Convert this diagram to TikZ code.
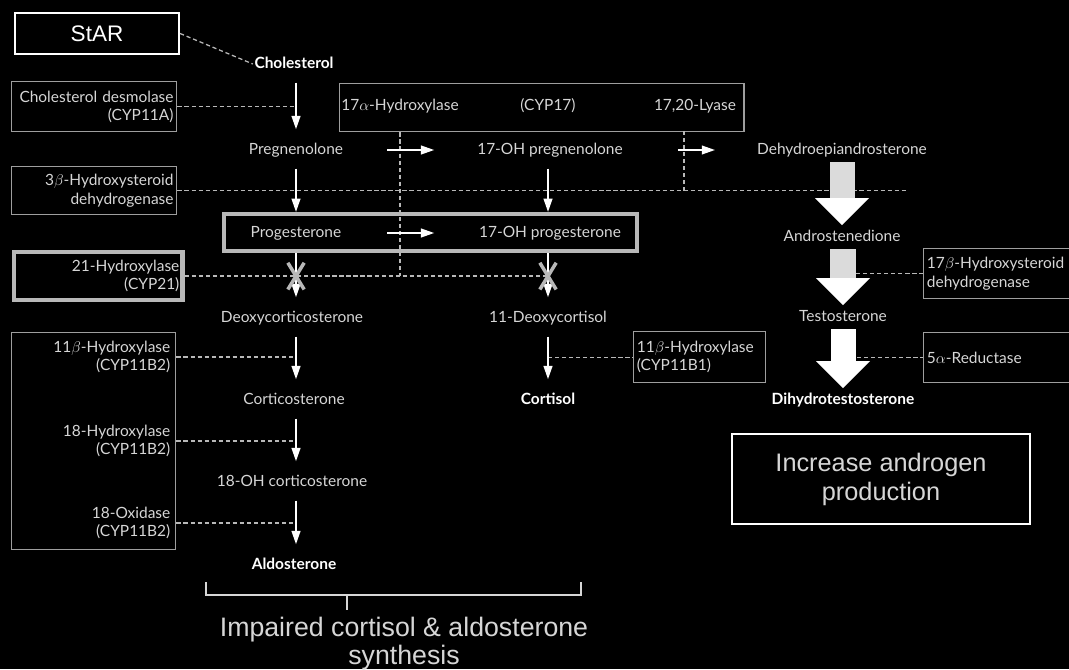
\documentclass[tikz,border=0pt]{standalone}
\usepackage{fontspec}
\setmainfont{Lato}
\newfontfamily\slidefont{Liberation Sans}
\usetikzlibrary{arrows.meta, positioning, shapes.misc, calc}
\definecolor{metabgray}{gray}{0.84}
\definecolor{boxgray}{gray}{0.62}
\definecolor{keygray}{gray}{0.72}
\definecolor{shaftgray}{gray}{0.86}
\definecolor{linkgray}{gray}{0.72}
\tikzset{
  metab/.style={text=metabgray, font=\fontsize{11}{13}\selectfont, inner sep=1pt, text height=8pt, text depth=2.2pt},
  product/.style={metab, text=white, font=\fontsize{11}{13}\selectfont\bfseries},
  enzyme/.style={draw=boxgray, line width=1pt, text=metabgray, font=\fontsize{11}{13}\selectfont, inner xsep=0.08cm, inner ysep=2pt, align=right, anchor=north west},
  keyenzyme/.style={enzyme, draw=keygray, line width=3pt},
  enzlabel/.style={text=metabgray, font=\fontsize{11}{13}\selectfont, inner sep=1pt, align=right, anchor=east},
  keybox/.style={draw=keygray, line width=3pt},
  flow/.style={-{Triangle[length=0.33cm, width=0.22cm]}, white, line width=1.1pt, shorten <=7pt, shorten >=8.5pt},
  link/.style={linkgray, line width=0.9pt, dash pattern=on 3pt off 2pt},
  blocked/.style={draw=keygray, cross out, line width=2.5pt, minimum width=0.32cm, minimum height=0.58cm, inner sep=0pt},
  slidebox/.style={draw=white, line width=1.5pt, text=white, font=\slidefont\fontsize{16}{18}\selectfont},
  slidetext/.style={text=metabgray, font=\slidefont\fontsize{19}{20}\selectfont, align=center},
}
% fat arrow: from node, to node, shaft colour
\newcommand{\fatarrow}[3]{%
  \fill[#3] ($(#1.south)+(-12.5,3)$) rectangle ($(#2.north)+(12.5,-28)$);
  \fill[white] ($(#2.north)+(-27,-30)$) -- ($(#2.north)+(27,-30)$) -- ($(#2.north)+(0,-3)$) -- cycle;}

\begin{document}
\begin{tikzpicture}[x=0.025cm, y=-0.025cm]
\fill[black] (0,0) rectangle (1069,669);
\useasboundingbox (0,0) rectangle (1069,669);
\clip (0,0) rectangle (1069,669);

% metabolites
\node[product] (chol) at (294,64) {Cholesterol};
\node[metab] (preg) at (296,150) {Pregnenolone};
\node[metab] (ohpreg) at (550,150) {17-OH pregnenolone};
\node[metab] (dhea) at (842,150) {Dehydroepiandrosterone};
\node[keybox, minimum width=10.325cm, minimum height=0.925cm] (progbox) at (430.5,232.5) {};
\node[metab] (prog) at (296,233) {Progesterone};
\node[metab] (ohprog) at (550,233) {17-OH progesterone};
\node[metab] (andro) at (842,237) {Androstenedione};
\node[metab] (doc) at (292,318) {Deoxycorticosterone};
\node[metab] (deoxycort) at (548,318) {11-Deoxycortisol};
\node[metab] (testo) at (843,317) {Testosterone};
\node[metab] (cortico) at (294,400) {Corticosterone};
\node[product] (cortisol) at (548,400) {Cortisol};
\node[product] (dht) at (843,400) {Dihydrotestosterone};
\node[metab] (ohcortico) at (292,482) {18-OH corticosterone};
\node[product] (aldo) at (294,565) {Aldosterone};

% enzymes
\node[slidebox, minimum width=4.1cm, minimum height=1.025cm] (star) at (97,33.5) {StAR};
\node[enzyme, text width=3.965cm, minimum height=1.25cm] (desm) at (11,81) {Cholesterol desmolase\\(CYP11A)};
\node[enzyme, text width=3.965cm, minimum height=1.2cm] (hsd3) at (11,166) {3$\beta$-Hydroxysteroid\\dehydrogenase};
\node[keyenzyme, text width=4.05cm, minimum height=1.2cm] (cyp21) at (12,250) {21-Hydroxylase\\(CYP21)};
\node[enzyme, minimum width=10.1cm, minimum height=1.2cm] (cyp17) at (339,83) {};
\node[metab] (hydrox17) at (400,106) {17$\alpha$-Hydroxylase};
\node[metab] (cyp17lbl) at (548,106) {(CYP17)};
\node[metab] (lyase) at (695,106) {17,20-Lyase};
\coordinate (lyasetap) at (684,131);
\node[enzyme, minimum width=4.1cm, minimum height=5.425cm] (cypbox) at (11,332) {};
\node[enzlabel] (hydrox11) at (172,357) {11$\beta$-Hydroxylase\\(CYP11B2)};
\node[enzlabel] (hydrox18) at (172,441) {18-Hydroxylase\\(CYP11B2)};
\node[enzlabel] (oxid18) at (172,523) {18-Oxidase\\(CYP11B2)};
\node[enzyme, align=left, text width=3.14cm, minimum height=1.275cm] (cyp11b1) at (633,331) {11$\beta$-Hydroxylase\\(CYP11B1)};
\node[enzyme, align=left, text width=3.6cm, minimum height=1.25cm] (hsd17) at (923,248) {17$\beta$-Hydroxysteroid\\dehydrogenase};
\node[enzyme, align=left, text width=3.6cm, minimum height=1.25cm] (red5a) at (923,332) {5$\alpha$-Reductase};
\coordinate (hsdend) at (908,191);

% enzyme links
\draw[link] (star.east) -- (chol.west);
\draw[link] (desm.east) -- (desm.east -| preg);
\draw[link] (hsd3.east) -- (hsd3.east -| hsdend);
\draw[link] (cyp21.east) -- (cyp21.east -| ohprog);
\draw[link] (cyp17.south -| hydrox17) -- (hydrox17 |- cyp21);
\draw[link] (lyasetap) -- (lyasetap |- hsd3);
\draw[link] (hydrox11.east -| cypbox.east) -- (hydrox11.east -| preg);
\draw[link] (hydrox18.east -| cypbox.east) -- (hydrox18.east -| preg);
\draw[link] (oxid18.east -| cypbox.east) -- (oxid18.east -| preg);
\draw[link] (cyp11b1.west -| deoxycort) -- (cyp11b1.west);
\draw[link] (hsd17.west -| andro) -- (hsd17.west);
\draw[link] (red5a.west -| testo) -- (red5a.west);

% pathway
\draw[flow] (chol.south -| preg) -- (preg);
\draw[flow, shorten >=0pt] (preg) -- (preg |- progbox.north);
\draw[flow, shorten <=0pt] (prog |- progbox.south) -- (doc.north -| prog);
\draw[flow] (doc.south -| preg) -- (cortico.north -| preg);
\draw[flow] (cortico.south -| preg) -- (ohcortico.north -| preg);
\draw[flow] (ohcortico.south -| preg) -- (aldo.north -| preg);
\draw[flow, shorten >=0pt] (ohpreg.south -| deoxycort) -- (progbox.north -| deoxycort);
\draw[flow, shorten <=0pt] (progbox.south -| deoxycort) -- (deoxycort);
\draw[flow] (deoxycort) -- (cortisol);
\draw[flow, shorten <=0pt, shorten >=0pt] ($(preg.east)!0.5!(ohpreg.west)+(-23,0)$) -- ($(preg.east)!0.5!(ohpreg.west)+(24,0)$);
\draw[flow, shorten <=0pt, shorten >=0pt] ($(prog.east)!0.5!(ohprog.west)+(-23,0)$) -- ($(prog.east)!0.5!(ohprog.west)+(24,0)$);
\draw[flow, shorten <=0pt, shorten >=0pt] ($(ohpreg.east)!0.5!(dhea.west)+(-12,0)$) -- ($(ohpreg.east)!0.5!(dhea.west)+(25,0)$);
\node[blocked] (blockleft) at (prog |- cyp21) {};
\node[blocked] (blockright) at (deoxycort |- cyp21) {};

% androgen branch
\fatarrow{dhea}{andro}{shaftgray}
\fatarrow{andro}{testo}{shaftgray}
\fatarrow{testo}{dht}{white}

% outcomes
\node[slidebox, line width=2pt, minimum width=7.45cm, minimum height=2.25cm, align=center, text=metabgray, font=\slidefont\fontsize{18}{20.6}\selectfont] (increase) at (881,479) {Increase androgen\\production};
\draw[metabgray, line width=1.6pt] (206,582) |- (581,595) -- (581,582);
\draw[metabgray, line width=1.6pt] (347,595) -- (347,610);
\node[slidetext] (impaired) at (404,644) {Impaired cortisol \& aldosterone\\synthesis};
\end{tikzpicture}
\end{document}
